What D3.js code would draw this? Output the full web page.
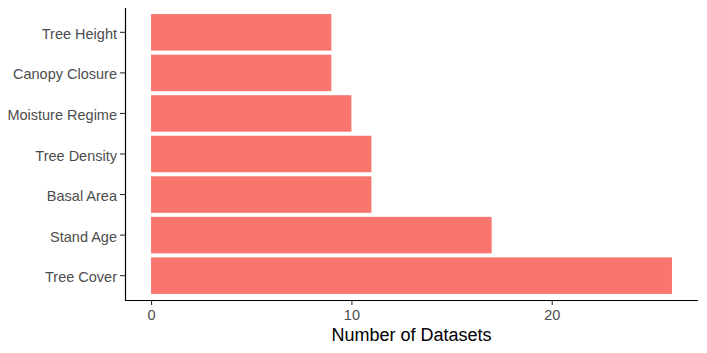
<!DOCTYPE html>
<html>
<head>
<meta charset="utf-8">
<script src="https://cdn.jsdelivr.net/npm/d3@7"></script>
<style>
  body { margin: 0; background: #fff; }
  svg { display: block; font-family: "Liberation Sans", Arial, sans-serif; }
</style>
</head>
<body>
<div id="chart"></div>
<script>
// categories, top to bottom as drawn
const categories = ["Tree Height", "Canopy Closure", "Moisture Regime", "Tree Density", "Basal Area", "Stand Age", "Tree Cover"];
const counts = [9, 9, 10, 11, 11, 17, 26];
const xTicks = [0, 10, 20];

const width = 707;
const height = 353;
const margin = { top: 8, right: 9, bottom: 53, left: 125 };

const svg = d3.select("#chart")
    .append("svg")
    .attr("width", width)
    .attr("height", height);

const data = categories.map((c, i) => ({ name: c, value: counts[i] }));

// ggplot style 5% expansion on the continuous axis
const maxVal = d3.max(counts);
const x = d3.scaleLinear()
    .domain([-0.05 * maxVal, maxVal * 1.05])
    .range([margin.left, width - margin.right]);

// discrete axis: 0.6 units of padding on each end, bar width 0.9
// n - inner + 2*outer = 7.2  ->  outer = 0.15
const y = d3.scaleBand()
    .domain(categories)
    .range([margin.top, height - margin.bottom])
    .paddingInner(0.1)
    .paddingOuter(0.15);

svg.append("g")
    .selectAll("rect")
    .data(data)
    .enter()
    .append("rect")
    .attr("x", x(0))
    .attr("y", d => y(d.name))
    .attr("width", d => x(d.value) - x(0))
    .attr("height", y.bandwidth())
    .attr("fill", "#F8766D");

// y axis
const yAxis = svg.append("g")
    .attr("transform", `translate(${margin.left},0)`)
    .call(d3.axisLeft(y).tickSize(5).tickPadding(3));
yAxis.select(".domain").attr("stroke", "#000").attr("stroke-width", 1.2)
    .attr("d", `M0.5,${margin.top}V${height - margin.bottom}`);
yAxis.selectAll(".tick line").attr("stroke", "#333").attr("stroke-width", 1.1);
yAxis.selectAll(".tick text")
    .attr("fill", "#4d4d4d")
    .attr("dy", "0.45em")
    .style("font-size", "14.5px");

// x axis
const xAxis = svg.append("g")
    .attr("transform", `translate(0,${height - margin.bottom})`)
    .call(d3.axisBottom(x).tickValues(xTicks).tickSize(5).tickPadding(5));
xAxis.select(".domain").attr("stroke", "#000").attr("stroke-width", 1.2)
    .attr("d", `M${margin.left},0.5H${width - margin.right}`);
xAxis.selectAll(".tick line").attr("stroke", "#333").attr("stroke-width", 1.1);
xAxis.selectAll(".tick text")
    .attr("fill", "#4d4d4d")
    .style("font-size", "14.5px");

// axis title
svg.append("text")
    .attr("x", (margin.left + width - margin.right) / 2)
    .attr("y", 341)
    .attr("text-anchor", "middle")
    .attr("fill", "#000")
    .style("font-size", "18px")
    .text("Number of Datasets");
</script>
</body>
</html>
